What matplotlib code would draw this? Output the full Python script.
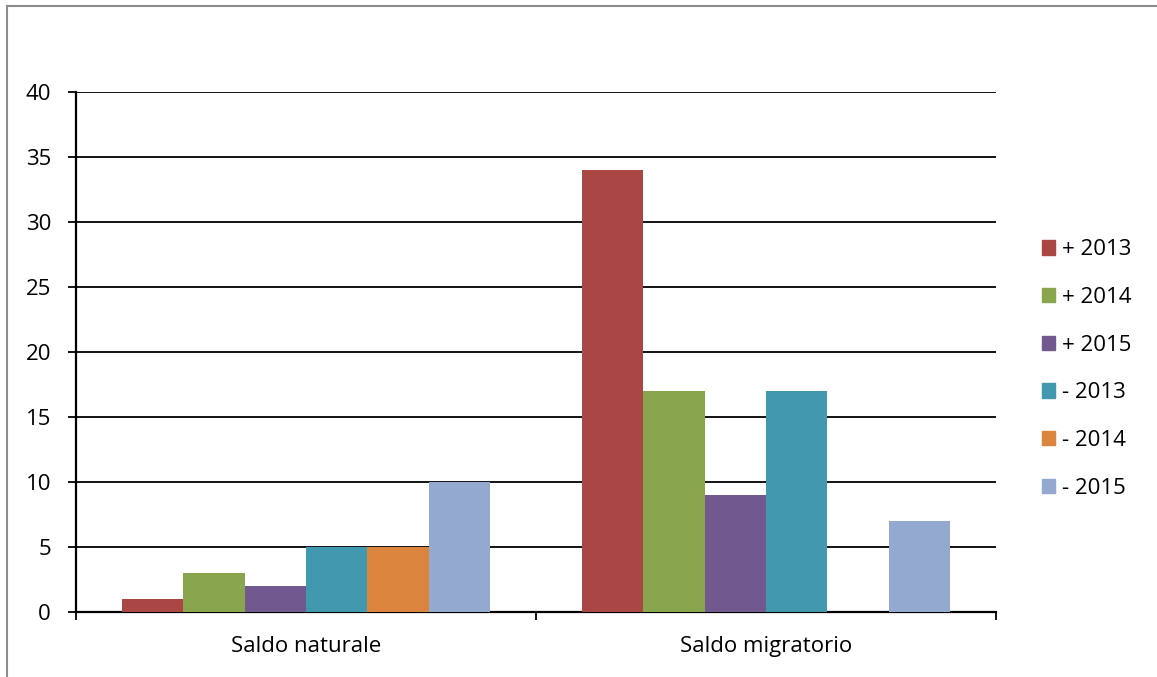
import matplotlib
matplotlib.use("Agg")
import matplotlib.pyplot as plt
import numpy as np
from matplotlib.lines import Line2D

categories = ["Saldo naturale", "Saldo migratorio"]
series_names = ["+ 2013", "+ 2014", "+ 2015", "- 2013", "- 2014", "- 2015"]
values = [
    [1, 34],
    [3, 17],
    [2, 9],
    [5, 17],
    [5, 0],
    [10, 7],
]
colors = ["#AA4643", "#89A54E", "#71588F", "#4198AF", "#DB843D", "#93A9CF"]
yticks = [0, 5, 10, 15, 20, 25, 30, 35, 40]

plt.rcParams["font.family"] = ["Open Sans", "DejaVu Sans"]
FS = 16

W, H = 1157, 677
fig = plt.figure(figsize=(W / 100, H / 100), dpi=100)
ax = fig.add_axes([76 / W, 1 - 612 / H, 920 / W, 520 / H])

n = len(series_names)
bar_w = 0.8 / n
x = np.arange(len(categories))
for i, (name, vals, c) in enumerate(zip(series_names, values, colors)):
    pos = x - 0.4 + bar_w * (i + 0.5)
    ax.bar(pos, vals, width=bar_w, color=c, label=name, linewidth=0, zorder=3)

ax.set_xlim(-0.5, len(categories) - 0.5)
ax.set_ylim(0, 40)
ax.set_yticks(yticks)
ax.set_yticklabels([str(v) for v in yticks], fontsize=FS)
for v in yticks[1:]:
    ax.axhline(v, color="black", lw=1.3, zorder=1)

ax.set_xticks(x)
ax.set_xticklabels(categories, fontsize=FS)
ax.set_xticks([-0.5, 0.5, 1.5], minor=True)
ax.tick_params(axis="x", which="major", length=0, pad=17)
ax.tick_params(axis="x", which="minor", length=6, width=1.3, direction="out")
ax.tick_params(axis="y", length=6, width=1.3, direction="out", pad=12)

for s in ["top", "right"]:
    ax.spines[s].set_visible(False)
ax.spines["left"].set_linewidth(1.6)
ax.spines["bottom"].set_linewidth(1.6)

handles = [plt.Rectangle((0, 0), 1, 1, color=c) for c in colors]
fig.legend(handles, series_names, loc="center left", bbox_to_anchor=(1022 / W, 1 - 369 / H),
           frameon=False, fontsize=FS, handlelength=0.6, handleheight=0.6,
           handletextpad=0.3, labelspacing=1.2)

# outer chart border (only top and left visible in the crop)
fig.add_artist(Line2D([7 / W, 7 / W], [0, 1 - 6 / H], color="#8c8c8c", lw=1.5))
fig.add_artist(Line2D([7 / W, 1], [1 - 6 / H, 1 - 6 / H], color="#8c8c8c", lw=1.5))

fig.savefig("out.png", dpi=100)
